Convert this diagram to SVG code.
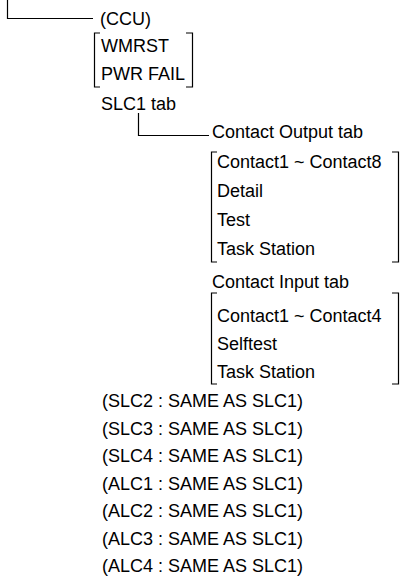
<svg xmlns="http://www.w3.org/2000/svg" width="401" height="585" viewBox="0 0 401 585">
<style>
text{font-family:"Liberation Sans",Arial,sans-serif;font-size:18px;fill:#000}
.ln{fill:none;stroke:#000;stroke-width:1.2}
</style>
<rect width="401" height="585" fill="#fff"/>
<g id="connectors">
<path class="ln" d="M7.5,0V18.5H93"/>
<path class="ln" d="M138.5,113V135.5H209"/>
</g>
<g id="ccu">
<text x="100" y="25">(CCU)</text>
<path class="ln" d="M100,33H94.5V87H100"/>
<path class="ln" d="M186,33H192.5V87H186"/>
<text x="101" y="52">WMRST</text>
<text x="101" y="80">PWR FAIL</text>
</g>
<g id="slc1">
<text x="101" y="110">SLC1 tab</text>
</g>
<g id="contact-output">
<text x="212" y="138">Contact Output tab</text>
<path class="ln" d="M217,152H211.5V262H217"/>
<path class="ln" d="M392,152H398.5V262H392"/>
<text x="217" y="168">Contact1 ~ Contact8</text>
<text x="217" y="197">Detail</text>
<text x="217" y="226">Test</text>
<text x="217" y="255">Task Station</text>
</g>
<g id="contact-input">
<text x="212" y="288">Contact Input tab</text>
<path class="ln" d="M217,293H211.5V384H217"/>
<path class="ln" d="M392,293H398.5V384H392"/>
<text x="217" y="322">Contact1 ~ Contact4</text>
<text x="217" y="350">Selftest</text>
<text x="217" y="378">Task Station</text>
</g>
<g id="others">
<text x="102" y="407">(SLC2 : SAME AS SLC1)</text>
<text x="102" y="434.5">(SLC3 : SAME AS SLC1)</text>
<text x="102" y="462">(SLC4 : SAME AS SLC1)</text>
<text x="102" y="489.5">(ALC1 : SAME AS SLC1)</text>
<text x="102" y="517">(ALC2 : SAME AS SLC1)</text>
<text x="102" y="544.5">(ALC3 : SAME AS SLC1)</text>
<text x="102" y="572">(ALC4 : SAME AS SLC1)</text>
</g>
</svg>
